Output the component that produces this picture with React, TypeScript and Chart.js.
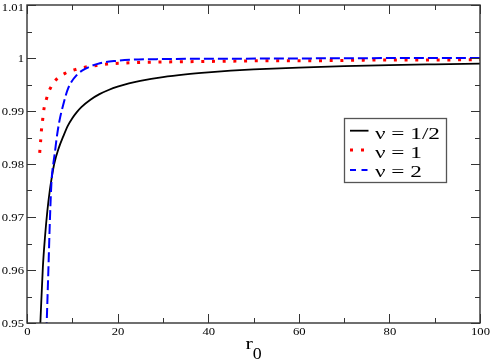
import React, { useEffect, useRef } from "react";
import { Chart, registerables } from "chart.js";

Chart.register(...registerables);

// nu = 1/2 (solid black)
const halfR = [2.8, 3, 3.5, 4, 4.5, 5, 5.5, 6, 7, 8, 9, 10, 11, 12, 14, 16, 18, 20, 22.5, 25, 30, 35, 40, 45, 50, 60, 70, 80, 90, 100];
const halfV = [0.947, 0.951, 0.9605, 0.9665, 0.9712, 0.9748, 0.9776, 0.98, 0.983, 0.9852, 0.9872, 0.98865, 0.9898, 0.99075, 0.99214, 0.99319, 0.99397, 0.9946, 0.99521, 0.99569, 0.99641, 0.99692, 0.9973, 0.9976, 0.99785, 0.9982, 0.99846, 0.99866, 0.9988, 0.99892];

// nu = 1 (dotted red)
const oneR = [2.8, 3.0, 3.17, 3.45, 3.75, 4.3, 5.1, 6.4, 8.4, 10.6, 13, 15.4, 17.7, 20.2, 27, 35, 45, 55, 65, 75, 85, 100];
const oneV = [0.9821, 0.9842, 0.9862, 0.9883, 0.9904, 0.9923, 0.9942, 0.9959, 0.9971, 0.9978, 0.9983, 0.9986, 0.99885, 0.999, 0.9992, 0.9993, 0.9994, 0.9995, 0.9995, 0.9996, 0.9996, 0.9997];

// nu = 2 (dashed blue)
const twoR = [4.1, 4.35, 4.72, 5.08, 5.43, 5.8, 6.13, 6.55, 7.13, 8.0, 9.1, 11.0, 13.2, 16.1, 19.8, 22.7, 30, 40, 55, 70, 85, 100];
const twoV = [0.943, 0.95, 0.96, 0.97, 0.977, 0.98, 0.982, 0.9849, 0.988, 0.9912, 0.9943, 0.9968, 0.9981, 0.999, 0.99947, 0.99966, 0.9998, 0.99985, 0.9999, 0.99995, 1.0, 1.0];

const xTickValues = [0, 20, 40, 60, 80, 100];
const xTickLabels = ["0", "20", "40", "60", "80", "100"];
const yTickValues = [0.95, 0.96, 0.97, 0.98, 0.99, 1.0, 1.01];
const yTickLabels = ["0.95", "0.96", "0.97", "0.98", "0.99", "1", "1.01"];
const legendLabels = ["ν = 1/2", "ν = 1", "ν = 2"];
const seriesColors = ["#000000", "#ff0000", "#0000ff"];
const xTitleMain = "r";
const xTitleSub = "0";

const SERIF = "\"Liberation Serif\", \"Times New Roman\", \"DejaVu Serif\", serif";

function drawStretched(ctx: CanvasRenderingContext2D, text: string, x: number, y: number, sx: number, align: CanvasTextAlign) {
  ctx.save();
  ctx.translate(x, y);
  ctx.scale(sx, 1);
  ctx.textAlign = align;
  ctx.textBaseline = "alphabetic";
  ctx.fillText(text, 0, 0);
  ctx.restore();
}

const framePlugin = {
  id: "graceFrame",
  afterDraw(chart: any) {
    const ctx: CanvasRenderingContext2D = chart.ctx;
    const { left, right, top, bottom } = chart.chartArea;
    const xs = chart.scales.x;
    const ys = chart.scales.y;
    ctx.save();
    ctx.strokeStyle = "#333333";
    ctx.lineWidth = 1.4;
    ctx.strokeRect(left, top, right - left, bottom - top);
    ctx.lineWidth = 1;
    ctx.beginPath();
    for (let i = 0; i < xTickValues.length; i++) {
      const px = Math.round(xs.getPixelForValue(xTickValues[i])) + 0.5;
      ctx.moveTo(px, bottom); ctx.lineTo(px, bottom - 9);
      ctx.moveTo(px, top); ctx.lineTo(px, top + 9);
      if (i < xTickValues.length - 1) {
        const mx = Math.round(xs.getPixelForValue((xTickValues[i] + xTickValues[i + 1]) / 2)) + 0.5;
        ctx.moveTo(mx, bottom); ctx.lineTo(mx, bottom - 5);
        ctx.moveTo(mx, top); ctx.lineTo(mx, top + 5);
      }
    }
    for (let i = 0; i < yTickValues.length; i++) {
      const py = Math.round(ys.getPixelForValue(yTickValues[i])) + 0.5;
      ctx.moveTo(left, py); ctx.lineTo(left + 9, py);
      ctx.moveTo(right, py); ctx.lineTo(right - 9, py);
      if (i < yTickValues.length - 1) {
        const my = Math.round(ys.getPixelForValue((yTickValues[i] + yTickValues[i + 1]) / 2)) + 0.5;
        ctx.moveTo(left, my); ctx.lineTo(left + 5, my);
        ctx.moveTo(right, my); ctx.lineTo(right - 5, my);
      }
    }
    ctx.stroke();

    ctx.fillStyle = "#000000";
    ctx.font = "11px " + SERIF;
    for (let i = 0; i < xTickValues.length; i++) {
      const px = xs.getPixelForValue(xTickValues[i]);
      drawStretched(ctx, xTickLabels[i], px + 0.5, 334.8, 1.15, "center");
    }
    for (let i = 0; i < yTickValues.length; i++) {
      const py = ys.getPixelForValue(yTickValues[i]);
      drawStretched(ctx, yTickLabels[i], 24, Math.max(py + 3.7, 10.7), 1.15, "right");
    }

    ctx.font = "17px " + SERIF;
    drawStretched(ctx, xTitleMain, 245.5, 348.5, 1.3, "left");
    drawStretched(ctx, xTitleSub, 252.8, 359.3, 1.05, "left");

    const bx = 344.5, by = 118.5, bw = 102, bh = 64;
    ctx.fillStyle = "#ffffff";
    ctx.fillRect(bx, by, bw, bh);
    ctx.strokeStyle = "#555555";
    ctx.lineWidth = 1.3;
    ctx.strokeRect(bx, by, bw, bh);

    const sampleY = [130.7, 150, 170];
    const dashes = [[], [3, 8], [6, 5.5]];
    const widths = [1.8, 3, 2];
    for (let i = 0; i < 3; i++) {
      ctx.beginPath();
      ctx.setLineDash(dashes[i]);
      ctx.lineCap = "butt";
      ctx.strokeStyle = seriesColors[i];
      ctx.lineWidth = widths[i];
      ctx.moveTo(350, sampleY[i]);
      ctx.lineTo(368.5, sampleY[i]);
      ctx.stroke();
    }
    ctx.setLineDash([]);
    ctx.fillStyle = "#000000";
    ctx.font = "16px " + SERIF;
    const w0 = ctx.measureText(legendLabels[0]).width;
    const sx = 65 / w0;
    const baselines = [139, 158.3, 177.3];
    for (let i = 0; i < 3; i++) {
      drawStretched(ctx, legendLabels[i], 375, baselines[i], sx, "left");
    }
    ctx.restore();
  },
};

export default function App() {
  const ref = useRef<HTMLCanvasElement | null>(null);
  useEffect(() => {
    document.body.style.margin = "0";
    const canvas = ref.current;
    if (!canvas) return;
    const mk = (rs: number[], vs: number[]) => rs.map((r, i) => ({ x: r, y: vs[i] }));
    const chart = new Chart(canvas, {
      type: "line",
      data: {
        datasets: [
          {
            label: legendLabels[0],
            data: mk(halfR, halfV),
            borderColor: seriesColors[0],
            borderWidth: 1.8,
            pointRadius: 0,
            fill: false,
            cubicInterpolationMode: "monotone",
            clip: 0,
            order: 2,
          },
          {
            label: legendLabels[1],
            data: mk(oneR, oneV),
            borderColor: seriesColors[1],
            borderWidth: 3,
            borderDash: [3, 7.7],
            borderCapStyle: "butt",
            pointRadius: 0,
            fill: false,
            cubicInterpolationMode: "monotone",
            clip: 0,
            order: 1,
          },
          {
            label: legendLabels[2],
            data: mk(twoR, twoV),
            borderColor: seriesColors[2],
            borderWidth: 2,
            borderDash: [10, 4],
            borderCapStyle: "butt",
            pointRadius: 0,
            fill: false,
            cubicInterpolationMode: "monotone",
            clip: 0,
            order: 0,
          },
        ] as any,
      },
      options: {
        responsive: false,
        animation: false,
        events: [],
        layout: { padding: { top: 5, right: 11, left: 0, bottom: 0 }, autoPadding: false } as any,
        plugins: { legend: { display: false }, tooltip: { enabled: false }, title: { display: false } },
        scales: {
          x: {
            type: "linear",
            min: 0,
            max: 100,
            grid: { display: false, drawTicks: false },
            border: { display: false },
            ticks: { display: false, stepSize: 20 },
            afterFit: (s: any) => { s.height = 38; s.paddingLeft = 0; s.paddingRight = 0; },
          },
          y: {
            type: "linear",
            min: 0.95,
            max: 1.01,
            grid: { display: false, drawTicks: false },
            border: { display: false },
            ticks: { display: false, stepSize: 0.01 },
            afterFit: (s: any) => { s.width = 27; s.paddingTop = 0; s.paddingBottom = 0; },
          },
        },
      } as any,
      plugins: [framePlugin],
    });
    let alive = true;
    const redraw = () => { if (alive) chart.draw(); };
    if ((document as any).fonts) {
      (document as any).fonts.load("16px \"Liberation Serif\"", "ν 0123").then(redraw, redraw);
      (document as any).fonts.ready.then(redraw);
    }
    const t = setTimeout(redraw, 150);
    return () => { alive = false; clearTimeout(t); chart.destroy(); };
  }, []);
  return (
    <div>
      <canvas ref={ref} width={491} height={361} style={{ display: "block" }} />
      <span style={{ position: "absolute", left: -9999, top: 0, fontFamily: SERIF, fontSize: 16 }}>ν = 1/2 0123456789</span>
    </div>
  );
}
